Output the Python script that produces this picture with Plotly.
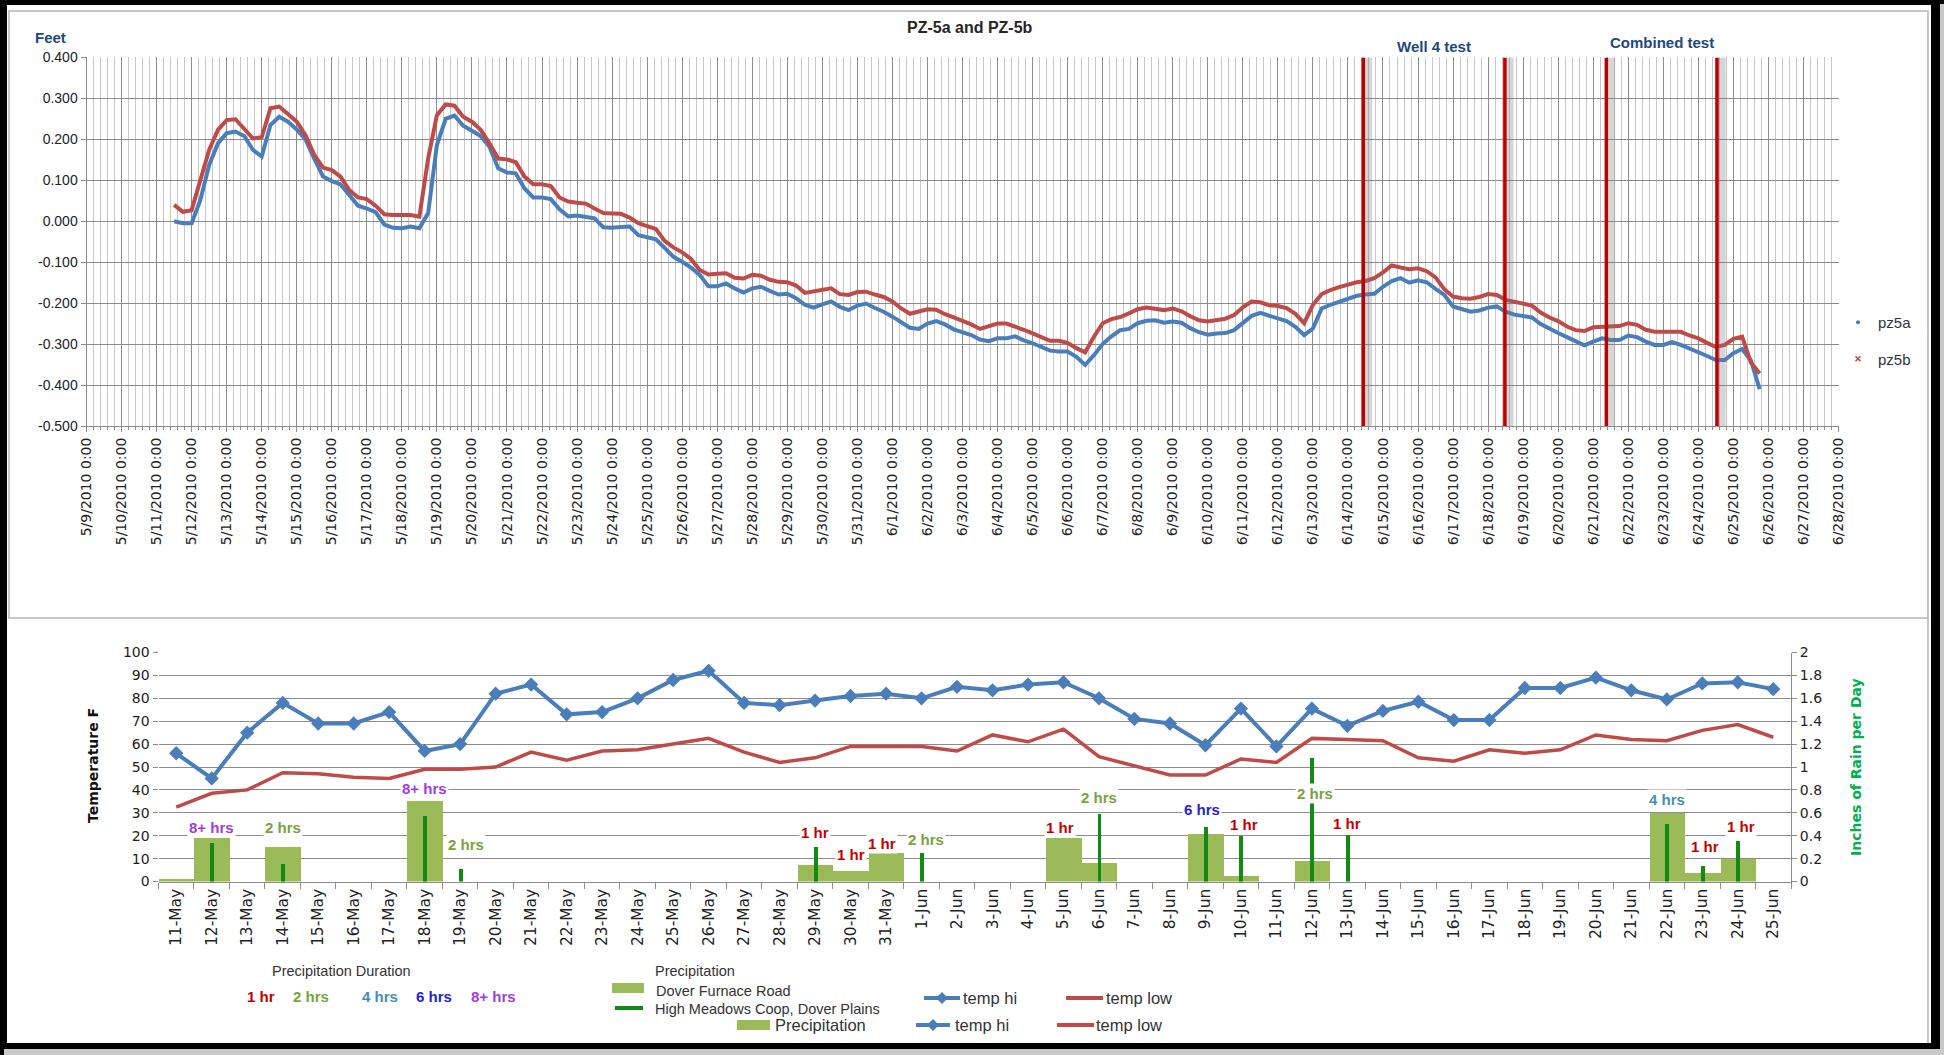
import plotly.graph_objects as go
import pandas as pd

W, H = 1944, 1055

# ---------------- top chart: piezometer readings (feet), every 6 hours ----------------
pz_start = "2010-05-11 12:00"
pz_step = "6h"
pz5a = [0.000, -0.005,
        -0.005, 0.052, 0.137, 0.190,
        0.215, 0.219, 0.208, 0.174,
        0.158, 0.235, 0.255, 0.243,
        0.224, 0.200, 0.153, 0.109,
        0.098, 0.090, 0.064, 0.038,
        0.031, 0.022, -0.008, -0.016,
        -0.017, -0.013, -0.017, 0.020,
        0.186, 0.250, 0.258, 0.233,
        0.221, 0.208, 0.182, 0.129,
        0.119, 0.117, 0.080, 0.058,
        0.058, 0.054, 0.029, 0.012,
        0.014, 0.011, 0.007, -0.015,
        -0.016, -0.014, -0.013, -0.034,
        -0.040, -0.044, -0.065, -0.087,
        -0.099, -0.113, -0.131, -0.159,
        -0.159, -0.152, -0.164, -0.174,
        -0.164, -0.160, -0.170, -0.179,
        -0.177, -0.188, -0.204, -0.211,
        -0.203, -0.196, -0.209, -0.217,
        -0.206, -0.201, -0.212, -0.221,
        -0.233, -0.247, -0.260, -0.263,
        -0.250, -0.244, -0.252, -0.264,
        -0.270, -0.278, -0.289, -0.293,
        -0.286, -0.286, -0.281, -0.291,
        -0.298, -0.306, -0.316, -0.318,
        -0.318, -0.331, -0.351, -0.327,
        -0.300, -0.281, -0.266, -0.263,
        -0.249, -0.243, -0.242, -0.248,
        -0.245, -0.248, -0.261, -0.271,
        -0.277, -0.274, -0.273, -0.266,
        -0.248, -0.231, -0.224, -0.231,
        -0.237, -0.244, -0.258, -0.278,
        -0.262, -0.213, -0.204, -0.197,
        -0.188, -0.182, -0.179, -0.177,
        -0.160, -0.146, -0.139, -0.150,
        -0.144, -0.149, -0.165, -0.180,
        -0.208, -0.215, -0.221, -0.218,
        -0.211, -0.208, -0.221, -0.228,
        -0.231, -0.235, -0.251, -0.263,
        -0.273, -0.283, -0.294, -0.303,
        -0.294, -0.286, -0.290, -0.290,
        -0.279, -0.283, -0.294, -0.302,
        -0.302, -0.295, -0.302, -0.311,
        -0.318, -0.329, -0.339, -0.339,
        -0.322, -0.312, -0.340, -0.410]
pz5b = [0.040, 0.023,
        0.027, 0.097, 0.174, 0.223,
        0.247, 0.249, 0.226, 0.202,
        0.205, 0.276, 0.280, 0.263,
        0.243, 0.210, 0.162, 0.131,
        0.125, 0.109, 0.076, 0.058,
        0.054, 0.038, 0.017, 0.015,
        0.015, 0.015, 0.011, 0.153,
        0.259, 0.285, 0.282, 0.255,
        0.243, 0.223, 0.190, 0.153,
        0.151, 0.144, 0.109, 0.090,
        0.090, 0.086, 0.058, 0.048,
        0.045, 0.043, 0.031, 0.020,
        0.019, 0.018, 0.009, -0.005,
        -0.012, -0.019, -0.048, -0.064,
        -0.076, -0.092, -0.119, -0.130,
        -0.128, -0.127, -0.138, -0.140,
        -0.131, -0.133, -0.143, -0.148,
        -0.149, -0.157, -0.175, -0.172,
        -0.168, -0.164, -0.178, -0.180,
        -0.173, -0.172, -0.179, -0.185,
        -0.196, -0.213, -0.226, -0.221,
        -0.215, -0.216, -0.227, -0.235,
        -0.243, -0.252, -0.263, -0.257,
        -0.250, -0.250, -0.257, -0.265,
        -0.274, -0.282, -0.292, -0.292,
        -0.297, -0.310, -0.320, -0.282,
        -0.249, -0.239, -0.234, -0.225,
        -0.215, -0.211, -0.213, -0.217,
        -0.213, -0.220, -0.232, -0.242,
        -0.245, -0.241, -0.238, -0.229,
        -0.210, -0.196, -0.198, -0.205,
        -0.207, -0.212, -0.226, -0.249,
        -0.204, -0.178, -0.168, -0.161,
        -0.155, -0.149, -0.146, -0.139,
        -0.125, -0.108, -0.113, -0.117,
        -0.115, -0.122, -0.137, -0.166,
        -0.184, -0.188, -0.189, -0.185,
        -0.178, -0.180, -0.192, -0.197,
        -0.200, -0.206, -0.223, -0.235,
        -0.244, -0.257, -0.266, -0.268,
        -0.259, -0.258, -0.259, -0.256,
        -0.249, -0.253, -0.265, -0.270,
        -0.270, -0.269, -0.270, -0.279,
        -0.286, -0.297, -0.307, -0.302,
        -0.287, -0.282, -0.345, -0.372]
test_times = ["2010-06-14 10:30", "2010-06-18 11:30", "2010-06-21 09:00", "2010-06-24 12:45"]
test_labels = ["Well 4 test", "Combined test"]
top_title = "PZ-5a and PZ-5b"
top_x_range = ["2010-05-09", "2010-06-28"]
top_y_ticks = [0.4, 0.3, 0.2, 0.1, 0.0, -0.1, -0.2, -0.3, -0.4, -0.5]

# ---------------- bottom chart: weather ----------------
days = ["11-May", "12-May", "13-May", "14-May", "15-May", "16-May", "17-May", "18-May",
        "19-May", "20-May", "21-May", "22-May", "23-May", "24-May", "25-May", "26-May",
        "27-May", "28-May", "29-May", "30-May", "31-May", "1-Jun", "2-Jun", "3-Jun",
        "4-Jun", "5-Jun", "6-Jun", "7-Jun", "8-Jun", "9-Jun", "10-Jun", "11-Jun",
        "12-Jun", "13-Jun", "14-Jun", "15-Jun", "16-Jun", "17-Jun", "18-Jun", "19-Jun",
        "20-Jun", "21-Jun", "22-Jun", "23-Jun", "24-Jun", "25-Jun"]
temp_hi = [56, 45, 65, 78, 69, 69, 74, 57, 60, 82, 86, 73, 74, 80, 88, 92, 78, 77, 79, 81, 82,
           80, 85, 83.5, 86, 87, 80, 71, 69, 59.5, 75.5, 59, 75.5, 68, 74.5, 78.5, 70.5, 70.5,
           84.5, 84.5, 89, 83.5, 79.5, 86.5, 87, 84]
temp_low = [32.5, 38.5, 40, 47.5, 47, 45.5, 45, 49, 49, 50, 56.5, 53, 57, 57.5, 60, 62.5, 56.5,
            52, 54, 59, 59,
            59, 57, 64, 61, 66.5, 54.5, 50.5, 46.5, 46.5, 53.5, 52, 62.5, 62, 61.5, 54, 52.5,
            57.5, 56, 57.5, 64, 62, 61.5, 66, 68.5, 63]
rain_dover = [0.03, 0.38, None, 0.31, None, None, None, 0.71, None, None, None, None, None, None,
              None, None, None, None, 0.15, 0.10, 0.25,
              None, None, None, None, 0.38, 0.17, None, None, 0.42, 0.05, None, 0.18, None,
              None, None, None, None, None, None, None, None, 0.60, 0.08, 0.20, None]
rain_highmeadows = [None, 0.34, None, 0.16, None, None, None, 0.58, 0.11, None, None, None, None,
                    None, None, None, None, None, 0.31, None, None,
                    0.25, None, None, None, None, 0.59, None, None, 0.48, 0.40, None, 1.08, 0.41,
                    None, None, None, None, None, None, None, None, 0.51, 0.14, 0.36, None]
dur_days = ["12-May", "14-May", "18-May", "19-May", "29-May", "30-May", "31-May", "1-Jun",
            "5-Jun", "6-Jun", "9-Jun", "10-Jun", "12-Jun", "13-Jun", "22-Jun", "23-Jun", "24-Jun"]
dur_text = ["8+ hrs", "2 hrs", "8+ hrs", "2 hrs", "1 hr", "1 hr", "1 hr", "2 hrs",
            "1 hr", "2 hrs", "6 hrs", "1 hr", "2 hrs", "1 hr", "4 hrs", "1 hr", "1 hr"]
dur_level = [0.47, 0.47, 0.81, 0.32, 0.43, 0.24, 0.33, 0.37,
             0.47, 0.73, 0.63, 0.50, 0.77, 0.51, 0.72, 0.31, 0.48]
dur_shift = [0, 0, 0, 6, 0, 0, -4, 4, -3, 0, -3, 3, 3, 0, 0, 3, 3]
dur_classes = ["1 hr", "2 hrs", "4 hrs", "6 hrs", "8+ hrs"]
dur_colors = {"1 hr": "#C00000", "2 hrs": "#77A33A", "4 hrs": "#4590AE",
              "6 hrs": "#2222D8", "8+ hrs": "#A03CE0"}

C_BLUE = "#4A7EBB"
C_RED = "#BE4B48"
C_LGREEN = "#9BBB59"
C_DGREEN = "#138A13"
GRID = "#8C8C8C"
MINOR = "#C8C8C8"
AX = "#8C8C8C"


def px(x):
    return x / W


def py(y):
    return 1 - y / H


times = pd.date_range(pz_start, periods=len(pz5a), freq=pz_step)

fig = go.Figure()

# top chart traces
fig.add_trace(go.Scatter(x=times, y=pz5a, mode="lines", line=dict(color=C_BLUE, width=4),
                         showlegend=False, xaxis="x", yaxis="y", hoverinfo="skip"))
fig.add_trace(go.Scatter(x=times, y=pz5b, mode="lines", line=dict(color=C_RED, width=4),
                         showlegend=False, xaxis="x", yaxis="y", hoverinfo="skip"))
# legend entries (symbols only)
fig.add_trace(go.Scatter(x=[None], y=[None], mode="markers", name="pz5a",
                         marker=dict(symbol="circle", size=4, color=C_BLUE),
                         legendgroup="a", xaxis="x", yaxis="y"))
fig.add_trace(go.Scatter(x=[None], y=[None], mode="markers", name="pz5b",
                         marker=dict(symbol="x-thin", size=5, line=dict(color=C_RED, width=1.5)),
                         legendgroup="b", xaxis="x", yaxis="y"))

# bottom chart traces
fig.add_trace(go.Bar(x=days, y=rain_dover, width=1.0, marker=dict(color=C_LGREEN, line=dict(width=0)),
                     showlegend=False, xaxis="x2", yaxis="y2", name="Dover Furnace Road"))
fig.add_trace(go.Bar(x=days, y=rain_highmeadows, width=0.11,
                     marker=dict(color=C_DGREEN, line=dict(width=0)),
                     showlegend=False, xaxis="x2", yaxis="y2", name="High Meadows Coop, Dover Plains"))
fig.add_trace(go.Scatter(x=days, y=temp_low, mode="lines", line=dict(color=C_RED, width=3.5),
                         showlegend=False, xaxis="x2", yaxis="y3", name="temp low"))
fig.add_trace(go.Scatter(x=days, y=temp_hi, mode="lines+markers", line=dict(color=C_BLUE, width=4),
                         marker=dict(symbol="diamond", size=11, color=C_BLUE),
                         showlegend=False, xaxis="x2", yaxis="y3", name="temp hi"))

shapes = []
# test period lines with soft shadow
for t in test_times:
    t0 = pd.Timestamp(t)
    shapes.append(dict(type="line", xref="x", yref="y", x0=t0 + pd.Timedelta(hours=3.2),
                       x1=t0 + pd.Timedelta(hours=3.2), y0=-0.5, y1=0.4,
                       line=dict(color="rgba(120,120,120,0.30)", width=8), layer="above"))
    shapes.append(dict(type="line", xref="x", yref="y", x0=t0, x1=t0, y0=-0.5, y1=0.4,
                       line=dict(color="#C00000", width=3.5), layer="above"))

# frame
shapes.append(dict(type="rect", xref="paper", yref="paper", x0=px(9), x1=px(1928), y0=py(618), y1=py(11),
                   line=dict(color="#B4B4B4", width=1.5)))
shapes.append(dict(type="line", xref="paper", yref="paper", x0=px(1928), x1=px(1928), y0=py(1043), y1=py(618),
                   line=dict(color="#B4B4B4", width=1.5)))
for (a, b, c, d, col) in [(0, 0, 7, 1055, "black"), (0, 0, 1944, 5, "black"),
                          (1931, 0, 1940, 1049, "black"), (0, 1043, 1940, 1049, "black"),
                          (1940, 4, 1944, 1055, "#C8C8C8"), (4, 1049, 1944, 1055, "#C8C8C8")]:
    shapes.append(dict(type="rect", xref="paper", yref="paper", x0=px(a), x1=px(c), y0=py(d), y1=py(b),
                       fillcolor=col, line=dict(width=0)))


# bottom legend samples
def rect(x0, y0, x1, y1, col):
    return dict(type="rect", xref="paper", yref="paper", x0=px(x0), x1=px(x1), y0=py(y1), y1=py(y0),
                fillcolor=col, line=dict(width=0))


def hline(x0, x1, y, col, w=4):
    return dict(type="line", xref="paper", yref="paper", x0=px(x0), x1=px(x1), y0=py(y), y1=py(y),
                line=dict(color=col, width=w))


def diamond(cx, cy, r, col):
    path = "M {},{} L {},{} L {},{} L {},{} Z".format(px(cx - r), py(cy), px(cx), py(cy - r),
                                                      px(cx + r), py(cy), px(cx), py(cy + r))
    return dict(type="path", xref="paper", yref="paper", path=path, fillcolor=col, line=dict(width=0))


shapes += [rect(612, 983, 644, 993, C_LGREEN), hline(615, 643, 1008, C_DGREEN, 4),
           hline(924, 960, 998, C_BLUE, 4), diamond(942, 998, 6, C_BLUE),
           hline(1066, 1103, 998, C_RED, 4),
           rect(737, 1020, 770, 1030, C_LGREEN),
           hline(916, 950, 1025, C_BLUE, 4), diamond(933, 1025, 6, C_BLUE),
           hline(1057, 1094, 1025, C_RED, 4)]

ann = []
NARROW = "Liberation Sans, Arial, sans-serif"


def note(text, x, y, font, xref="paper", yref="paper", xanchor="center", **kw):
    d = dict(text=text, x=x, y=y, xref=xref, yref=yref, xanchor=xanchor, yanchor="middle",
             showarrow=False, font=font)
    d.update(kw)
    return d


ann.append(note("<b>" + top_title + "</b>", px(970), py(27), dict(family=NARROW, size=16, color="#262626")))
ann.append(note("<b>Feet</b>", px(50), py(37), dict(family=NARROW, size=15, color="#1F497D")))
for i, lab in enumerate(test_labels):
    ta, tb = pd.Timestamp(test_times[2 * i]), pd.Timestamp(test_times[2 * i + 1])
    ann.append(note("<b>" + lab + "</b>", ta + (tb - ta) / 2, py(46 - 3 * i),
                    dict(family=NARROW, size=15, color="#1F497D"), xref="x"))

# duration labels in the bottom chart
for dday, txt, lev, sh in zip(dur_days, dur_text, dur_level, dur_shift):
    ann.append(note("<b>" + txt + "</b>", dday, lev, dict(family=NARROW, size=15, color=dur_colors[txt]),
                    xref="x2", yref="y2", xshift=sh, bgcolor="white", borderpad=1))

# axis titles bottom
ann.append(note("<b>Temperature F</b>", px(93), py(766), dict(family="DejaVu Sans", size=14, color="#111"),
                textangle=-90))
ann.append(note("<b>Inches of Rain per Day</b>", px(1856), py(767),
                dict(family="DejaVu Sans", size=14, color="#00B050"), textangle=-90))

# bottom legends
ann.append(note("Precipitation Duration", px(341), py(971), dict(family=NARROW, size=14.5, color="#333")))
for txt, cx in zip(dur_classes, [261, 311, 379.5, 433.5, 493]):
    ann.append(note("<b>" + txt + "</b>", px(cx), py(996), dict(family=NARROW, size=15, color=dur_colors[txt])))
ann.append(note("Precipitation", px(695), py(971), dict(family=NARROW, size=14.5, color="#333")))
for txt, x0, y0, sz in [("Dover Furnace Road", 654, 991, 14.5),
                        ("High Meadows Coop, Dover Plains", 653, 1009, 14.5),
                        ("temp hi", 961, 998, 16.5), ("temp low", 1104, 998, 16.5),
                        ("Precipitation", 773, 1025, 16.5), ("temp hi", 953, 1025, 16.5),
                        ("temp low", 1094, 1025, 16.5)]:
    ann.append(note(txt, px(x0), py(y0), dict(family=NARROW, size=sz, color="#333"), xanchor="left"))

fig.update_layout(
    width=W, height=H, autosize=False, margin=dict(l=0, r=0, t=0, b=0, pad=0, autoexpand=False),
    paper_bgcolor="white", plot_bgcolor="white", barmode="overlay", bargap=0,
    shapes=shapes, annotations=ann,
    legend=dict(x=px(1838), y=py(306), xanchor="left", yanchor="top", bgcolor="rgba(0,0,0,0)",
                font=dict(family=NARROW, size=15, color="#333"), traceorder="grouped",
                tracegroupgap=14, itemwidth=30),
    xaxis=dict(type="date", domain=[px(86.5), px(1838.5)], anchor="y", range=top_x_range, automargin=False,
               tick0=top_x_range[0], dtick=86400000, tickformat="%-m/%-d/%Y %-H:%M", tickangle=-90,
               tickfont=dict(family="DejaVu Sans", size=14, color="#222"),
               showgrid=True, gridcolor=GRID, gridwidth=1, ticks="outside", ticklen=5, tickcolor=AX,
               showline=True, linecolor=AX, zeroline=False,
               minor=dict(dtick=17280000, tick0=top_x_range[0], showgrid=True, gridcolor=MINOR,
                          ticks="outside", ticklen=3, tickcolor=AX)),
    yaxis=dict(domain=[py(426), py(57.4)], anchor="x", range=[-0.5, 0.4], automargin=False,
               tickvals=top_y_ticks, ticktext=["{:.3f}".format(v) for v in top_y_ticks],
               tickfont=dict(family=NARROW, size=14, color="#222"),
               showgrid=True, gridcolor=GRID, zeroline=False, showline=True, linecolor=AX,
               ticks="outside", ticklen=5, tickcolor=AX),
    xaxis2=dict(type="category", domain=[px(158.5), px(1791)], anchor="y2", range=[-0.5, len(days) - 0.5],
                automargin=False,
                tickangle=-90, tickson="boundaries", ticks="outside", ticklen=6, tickcolor=AX,
                showline=True, linecolor=AX, showgrid=False,
                tickfont=dict(family="DejaVu Sans", size=15.5, color="#222")),
    yaxis2=dict(domain=[py(881.5), py(652.5)], anchor="x2", side="right", range=[0, 2], dtick=0.2,
                automargin=False,
                showgrid=False, zeroline=False, showline=True, linecolor=AX, ticks="outside",
                ticklen=5, tickcolor=AX, tickfont=dict(family="DejaVu Sans", size=14, color="#222")),
    yaxis3=dict(overlaying="y2", anchor="x2", side="left", range=[0, 100], dtick=10, automargin=False,
                showgrid=True, gridcolor=GRID, zeroline=False, showline=False, ticks="outside",
                ticklen=5, tickcolor=AX, tickfont=dict(family="DejaVu Sans", size=14, color="#222")),
)

fig.write_html("out.html", config={"displayModeBar": False},
               post_script="document.body.style.margin='0px';document.body.style.overflow='hidden';")
